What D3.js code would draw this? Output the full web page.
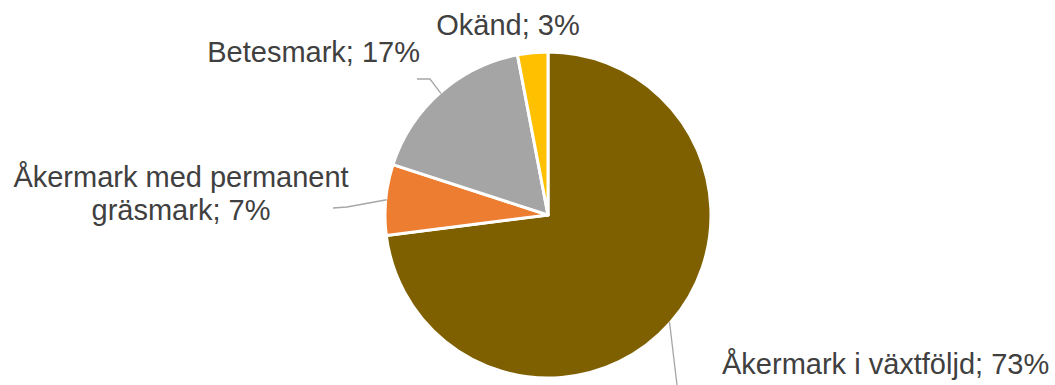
<!DOCTYPE html>
<html>
<head>
<meta charset="utf-8">
<script src="https://cdn.jsdelivr.net/npm/d3@7"></script>
<style>
  body { margin: 0; background: #fff; }
  text { font-family: "Liberation Sans", Arial, sans-serif; fill: #404040; }
</style>
</head>
<body>
<div id="chart"></div>
<script>
// data
var categories = ["Åkermark i växtföljd", "Åkermark med permanent gräsmark", "Betesmark", "Okänd"];
var values = [73, 7, 17, 3];
var colors = ["#7F6000", "#ED7D31", "#A5A5A5", "#FFC000"];

var width = 1055, height = 385;
var cx = 548, cy = 215, radius = 163;

var svg = d3.select("#chart").append("svg")
    .attr("width", width)
    .attr("height", height);

var pie = d3.pie().sort(null).value(function(d) { return d; });
var arc = d3.arc().innerRadius(0).outerRadius(radius);
var arcs = pie(values);

var g = svg.append("g").attr("transform", "translate(" + cx + "," + cy + ")");

g.selectAll("path")
    .data(arcs)
    .enter()
    .append("path")
    .attr("d", arc)
    .attr("fill", function(d, i) { return colors[i]; })
    .attr("stroke", "#fff")
    .attr("stroke-width", 3)
    .attr("stroke-linejoin", "round");

// label placement (layout, not data)
var labelLayout = [
    { x: 722, y: 374, anchor: "start", lines: null },
    { x: 181, y: 187, anchor: "middle", lines: ["Åkermark med permanent", "gräsmark; 7%"] },
    { x: 420, y: 62, anchor: "end", lines: null },
    { x: 508, y: 35, anchor: "middle", lines: null }
];
// leader lines: label end, elbow, angle on the slice edge (null = mid-angle)
var leaders = [
    { end: [677, 385], elbow: [677, 385], angle: 0.73 * Math.PI },
    { end: [333, 208], elbow: [347, 207], angle: null },
    { end: [417, 79], elbow: [430, 79], angle: null },
    null
];

arcs.forEach(function(a, i) {
    var lay = labelLayout[i];
    var lines = lay.lines || [categories[i] + "; " + values[i] + "%"];
    var t = svg.append("text")
        .attr("x", lay.x)
        .attr("y", lay.y)
        .attr("text-anchor", lay.anchor)
        .style("font-size", "29px");
    lines.forEach(function(l, j) {
        t.append("tspan")
            .attr("x", lay.x)
            .attr("dy", j === 0 ? 0 : 33)
            .text(l);
    });

    var ld = leaders[i];
    if (ld) {
        var ang = ld.angle === null ? (a.startAngle + a.endAngle) / 2 : ld.angle;
        var r = radius - 1;
        var px = cx + r * Math.sin(ang);
        var py = cy - r * Math.cos(ang);
        svg.append("path")
            .attr("d", d3.line()([ld.end, ld.elbow, [px, py]]))
            .attr("fill", "none")
            .attr("stroke", "#A6A6A6")
            .attr("stroke-width", 1.3);
    }
});
</script>
</body>
</html>
